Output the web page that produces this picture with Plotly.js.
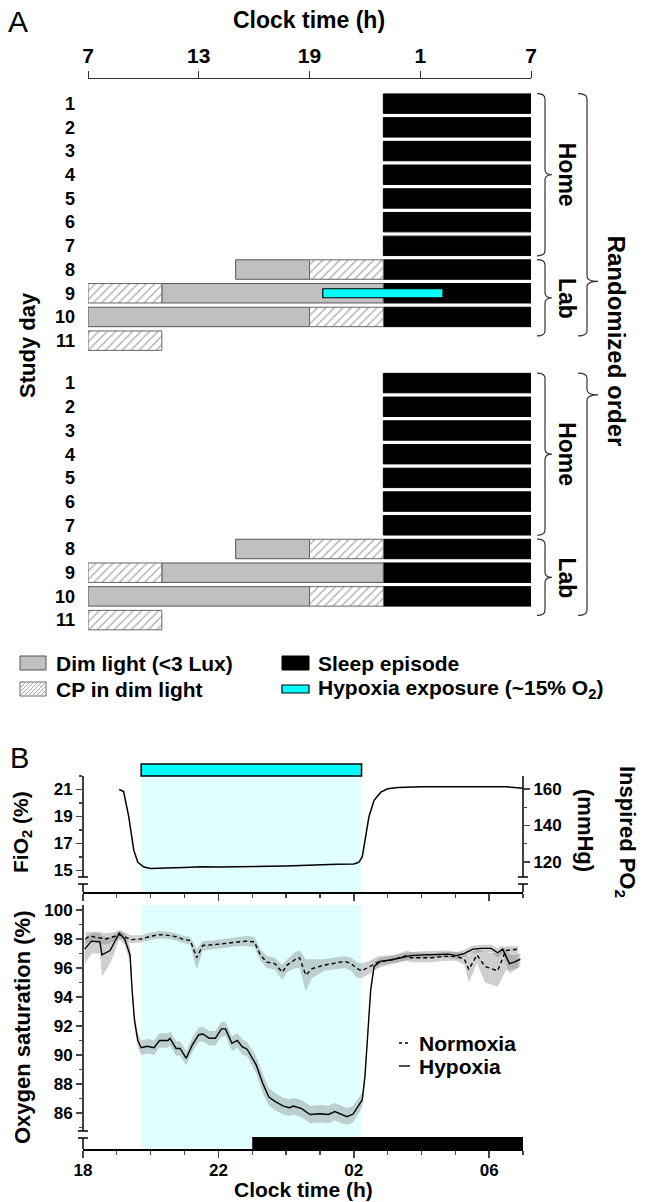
<!DOCTYPE html>
<html><head><meta charset="utf-8">
<script src="https://cdn.plot.ly/plotly-3.0.1.min.js"></script>
<style>html,body{margin:0;padding:0;background:#fff}#chart{width:646px;height:1202px}</style>
</head><body><div id="chart"></div>
<script>
// ================= Panel A data =================
const clockTickVals = [7, 13, 19, 25, 31];
const clockTickText = ['7', '13', '19', '1', '7'];
const studyDays = [1, 2, 3, 4, 5, 6, 7, 8, 9, 10, 11];
const groups = [1, 2];
const categoryNames = ['Dim light (&lt;3 Lux)', 'Sleep episode', 'CP in dim light', 'Hypoxia exposure (~15% O<sub>2</sub>)'];

const sleepGroup = [1,1,1,1,1,1,1,1,1,1, 2,2,2,2,2,2,2,2,2,2];
const sleepDay   = [1,2,3,4,5,6,7,8,9,10, 1,2,3,4,5,6,7,8,9,10];
const sleepStart = [23,23,23,23,23,23,23,23,23,23, 23,23,23,23,23,23,23,23,23,23];
const sleepEnd   = [31,31,31,31,31,31,31,31,31,31, 31,31,31,31,31,31,31,31,31,31];

const dimGroup = [1, 1, 1, 2, 2, 2];
const dimDay   = [8, 9, 10, 8, 9, 10];
const dimStart = [15, 11, 7, 15, 11, 7];
const dimEnd   = [19, 23, 19, 19, 23, 19];

const cpGroup = [1, 1, 1, 1, 2, 2, 2, 2];
const cpDay   = [8, 9, 10, 11, 8, 9, 10, 11];
const cpStart = [19, 7, 19, 7, 19, 7, 19, 7];
const cpEnd   = [23, 11, 23, 11, 23, 11, 23, 11];

const hypGroup = [1];
const hypDay   = [9];
const hypStart = [19.72];
const hypEnd   = [26.23];

// ================= Panel B data =================
const hypoxiaWindow = [19.72, 26.23];
const sleepWindowB = [23, 31];
const bTickVals = [18, 22, 26, 30];
const bTickText = ['18', '22', '02', '06'];
const seriesNames = ['Normoxia', 'Hypoxia'];

const fioT = [19.07,19.2,19.35,19.5,19.62,19.8,20.0,20.3,20.7,21.0,21.5,22.0,22.5,23.0,23.5,24.0,24.5,25.0,25.5,26.0,26.15,26.25,26.35,26.45,26.6,26.8,27.0,27.3,28.0,29.0,30.0,30.5,31.0];
const fioV = [21.0,20.85,19.0,16.5,15.6,15.25,15.15,15.15,15.2,15.22,15.28,15.25,15.25,15.27,15.3,15.33,15.38,15.45,15.45,15.48,15.6,16.0,17.5,19.0,20.2,20.8,21.05,21.15,21.2,21.2,21.2,21.2,21.1];

const norT  = [18.07,18.19,18.43,18.68,18.98,19.10,19.41,19.72,20.02,20.26,20.51,20.75,20.99,21.17,21.36,21.54,21.85,22.21,22.58,22.82,23.06,23.24,23.43,23.67,23.89,24.03,24.28,24.40,24.58,24.77,25.13,25.37,25.74,25.92,26.10,26.23,26.47,26.72,27.20,27.57,27.69,28.30,28.66,29.03,29.27,29.40,29.64,29.88,30.25,30.49,30.86];
const norV  = [98.0,98.2,98.1,98.0,98.2,98.3,97.95,98.0,98.2,98.3,98.25,98.15,97.95,97.9,96.7,97.55,97.6,97.7,97.8,97.85,97.8,96.9,96.4,96.3,95.7,96.2,96.6,96.7,95.5,95.95,96.2,96.3,96.45,96.3,95.95,95.8,96.1,96.4,96.6,96.85,96.7,96.7,96.8,96.8,96.6,95.9,96.9,96.1,95.8,97.2,97.3];
const norLo = [97.6,97.8,97.7,97.6,97.9,98.0,97.7,97.75,97.95,98.05,98.0,97.9,97.7,97.6,95.9,97.2,97.3,97.4,97.5,97.5,97.45,96.5,96.0,95.9,95.2,95.7,96.0,96.0,94.4,95.3,95.8,95.9,96.0,95.8,95.3,95.3,95.6,96.0,96.3,96.5,96.4,96.4,96.5,96.5,96.2,95.0,96.3,95.0,94.7,95.8,96.0];
const norHi = [98.45,98.5,98.5,98.4,98.5,98.6,98.25,98.25,98.45,98.55,98.5,98.4,98.2,98.15,97.3,97.85,97.9,98.0,98.1,98.2,98.15,97.3,96.8,96.7,96.2,96.6,97.1,97.2,96.6,96.6,96.6,96.7,96.8,96.7,96.4,96.3,96.5,96.8,96.9,97.2,97.1,97.0,97.1,97.1,97.0,96.8,97.3,97.1,97.0,97.5,97.5];

const hypT  = [18.05,18.25,18.5,18.56,18.8,18.92,19.07,19.23,19.39,19.45,19.52,19.62,19.72,19.9,20.1,20.26,20.51,20.57,20.75,20.87,21.05,21.23,21.42,21.54,21.73,21.91,22.09,22.21,22.40,22.56,22.70,22.85,23.0,23.12,23.31,23.49,23.67,23.92,24.1,24.22,24.46,24.71,25.01,25.25,25.44,25.62,25.80,25.98,26.17,26.25,26.33,26.42,26.5,26.6,26.78,27.08,27.39,27.69,28.06,28.42,28.79,29.03,29.27,29.52,29.76,30.06,30.25,30.4,30.6,30.74,30.92];
const hypV  = [97.3,97.85,97.8,96.9,97.2,97.7,98.4,98.0,96.9,94.5,92.4,91.0,90.5,90.6,90.5,91.0,91.0,91.15,90.45,90.45,89.77,90.7,91.4,91.45,91.15,91.15,91.8,91.8,90.8,91.0,90.57,90.4,89.8,89.3,88.05,87.1,86.8,86.48,86.37,86.48,86.3,85.9,85.95,85.9,86.1,85.9,85.75,85.93,86.66,86.9,88.5,92.0,94.5,96.1,96.45,96.55,96.7,96.85,96.9,96.95,96.95,96.85,97.0,97.3,97.35,97.35,97.05,97.3,96.3,96.4,96.6];
const hypLo = [96.3,97.0,97.0,95.4,96.3,97.0,98.0,97.6,96.4,94.0,91.9,90.5,90.0,90.1,90.0,90.5,90.5,90.65,89.95,89.95,89.3,90.2,90.9,90.95,90.65,90.65,91.3,91.3,90.3,90.5,90.05,89.9,89.25,88.7,87.4,86.5,86.2,85.9,85.8,85.9,85.7,85.3,85.35,85.3,85.5,85.3,85.2,85.35,86.1,86.4,88.0,91.5,94.1,95.8,96.2,96.3,96.45,96.6,96.65,96.7,96.7,96.6,96.75,97.0,97.1,97.1,96.7,97.0,95.6,95.8,96.1];
const hypHi = [98.0,98.4,98.4,98.2,98.1,98.3,98.6,98.4,97.5,95.0,92.9,91.5,91.0,91.1,91.0,91.5,91.5,91.65,90.95,90.95,90.25,91.2,91.9,91.95,91.65,91.65,92.3,92.3,91.3,91.5,91.1,90.9,90.35,89.9,88.7,87.7,87.4,87.05,86.95,87.05,86.9,86.5,86.55,86.5,86.7,86.5,86.35,86.5,87.2,87.4,89.0,92.5,94.9,96.4,96.7,96.8,96.95,97.1,97.15,97.2,97.2,97.1,97.25,97.55,97.6,97.6,97.35,97.55,96.9,96.9,97.0];

// ================= helpers =================
const W = 646, H = 1202;
const PX = v => v / W, PY = v => 1 - v / H;
const FONT = 'Liberation Sans, Arial, Helvetica, sans-serif';
const GROUP_GAP = 11.79;
const rowIdx = (g, d) => (g - 1) * GROUP_GAP + (d - 1);
const bold = (size) => ({family: FONT, size: size, color: '#000', weight: 700});

const STYLE = {
  dim:   {color: '#c0c0c0', line: {color: '#555', width: 1}},
  sleep: {color: '#000', line: {color: '#000', width: 1}},
  cp:    {color: '#fff', pattern: {shape: '/', fgcolor: '#a8a8a8', bgcolor: '#fff', size: 6, solidity: 0.2},
          line: {color: '#666', width: 1}},
  hyp:   {color: '#00ffff', line: {color: '#000', width: 1.2}}
};

function barTrace(name, g, d, s, e, marker, width) {
  return {
    type: 'bar', orientation: 'h', name: name,
    y: g.map((gg, i) => rowIdx(gg, d[i])),
    x: s.map((v, i) => e[i] - v), base: s,
    width: width, marker: marker, xaxis: 'x', yaxis: 'y', hoverinfo: 'skip'
  };
}

const traces = [
  barTrace(categoryNames[1], sleepGroup, sleepDay, sleepStart, sleepEnd, STYLE.sleep, 0.82),
  barTrace(categoryNames[0], dimGroup, dimDay, dimStart, dimEnd, STYLE.dim, 0.82),
  barTrace(categoryNames[2], cpGroup, cpDay, cpStart, cpEnd, STYLE.cp, 0.82),
  barTrace(categoryNames[3], hypGroup, hypDay, hypStart, hypEnd, STYLE.hyp, 0.38),
  // Panel B
  {x: fioT, y: fioV, xaxis: 'x2', yaxis: 'y2', mode: 'lines', line: {color: '#000', width: 1.5}, hoverinfo: 'skip'},
  {x: [], y: [], xaxis: 'x2', yaxis: 'y3', mode: 'lines', hoverinfo: 'skip'},
  {x: norT.concat(norT.slice().reverse()), y: norHi.concat(norLo.slice().reverse()),
   xaxis: 'x3', yaxis: 'y4', mode: 'lines', fill: 'toself', fillcolor: 'rgba(128,128,128,0.38)',
   line: {width: 0}, hoverinfo: 'skip'},
  {x: hypT.concat(hypT.slice().reverse()), y: hypHi.concat(hypLo.slice().reverse()),
   xaxis: 'x3', yaxis: 'y4', mode: 'lines', fill: 'toself', fillcolor: 'rgba(128,128,128,0.38)',
   line: {width: 0}, hoverinfo: 'skip'},
  {x: norT, y: norV, xaxis: 'x3', yaxis: 'y4', mode: 'lines', name: seriesNames[0],
   line: {color: '#000', width: 1.4, dash: '4px,3px'}, hoverinfo: 'skip'},
  {x: hypT, y: hypV, xaxis: 'x3', yaxis: 'y4', mode: 'lines', name: seriesNames[1],
   line: {color: '#000', width: 1.4}, hoverinfo: 'skip'}
];

// y ticks for panel A
const rowVals = [], rowText = [];
groups.forEach(g => studyDays.forEach(d => { rowVals.push(rowIdx(g, d)); rowText.push(String(d)); }));

// braces (x in paper, y in panel-A row units)
function brace(xh, xv, xt, y0, y1, ym) {
  const r = 0.22;
  const a = PX(xh), b = PX(xv), c = PX(xt);
  const path = `M ${a},${y0} Q ${b},${y0} ${b},${y0 + r} L ${b},${ym - r} Q ${b},${ym} ${c},${ym}` +
               ` Q ${b},${ym} ${b},${ym + r} L ${b},${y1 - r} Q ${b},${y1} ${a},${y1}`;
  return {type: 'path', xref: 'paper', yref: 'y', path: path, line: {color: '#333', width: 1.2}};
}
const g2 = GROUP_GAP;
const shapes = [
  brace(537, 545, 552, -0.42, 6.42, 3.0),
  brace(537, 545, 552, 6.58, 9.8, 8.2),
  brace(537, 545, 552, g2 - 0.42, g2 + 6.42, g2 + 3.0),
  brace(537, 545, 552, g2 + 6.58, g2 + 9.8, g2 + 8.2),
  brace(578, 587, 598, -0.42, 9.8, 7.5),
  brace(578, 587, 598, g2 - 0.42, g2 + 9.8, g2 + 0.5),
  // panel B hypoxia shading
  {type: 'rect', xref: 'x2', yref: 'y2 domain', x0: hypoxiaWindow[0], x1: hypoxiaWindow[1], y0: 0, y1: 1,
   fillcolor: '#e0ffff', line: {width: 0}, layer: 'below'},
  {type: 'rect', xref: 'x3', yref: 'y4 domain', x0: hypoxiaWindow[0], x1: hypoxiaWindow[1], y0: 0, y1: 1,
   fillcolor: '#e0ffff', line: {width: 0}, layer: 'below'},
  {type: 'rect', xref: 'x2', yref: 'y2 domain', x0: hypoxiaWindow[0], x1: hypoxiaWindow[1], y0: 1, y1: 1 + 12 / 116,
   fillcolor: '#00ffff', line: {color: '#000', width: 1.6}},
  {type: 'rect', xref: 'x3', yref: 'y4 domain', x0: sleepWindowB[0], x1: sleepWindowB[1], y0: 0, y1: 12 / 244,
   fillcolor: '#000', line: {width: 0}}
];
function seg(x0, y0, x1, y1, color, width, dash) {
  return {type: 'line', xref: 'paper', yref: 'paper', x0: PX(x0), y0: PY(y0), x1: PX(x1), y1: PY(y1),
          line: {color: color || '#000', width: width || 1.5, dash: dash || 'solid'}};
}
function brokenAxis(x, top, b1, b2, bottom) {
  return [seg(x, top, x, b1), seg(x - 5, b1, x + 5, b1), seg(x - 5, b2, x + 5, b2), seg(x, b2, x, bottom)];
}
shapes.push(...brokenAxis(83, 776, 877, 884, 892));
shapes.push(...brokenAxis(523, 776, 877, 884, 892));
shapes.push(...brokenAxis(83, 905, 1131, 1138, 1149));

// ---- legend of panel A (drawn as key boxes) ----
function box(x0, y0, x1, y1, st) {
  return {type: 'rect', xref: 'paper', yref: 'paper', x0: PX(x0), y0: PY(y0), x1: PX(x1), y1: PY(y1),
          fillcolor: st.color, line: {color: st.line.color, width: st.line.width}};
}
function hatch(x0, y0, x1, y1, step) {
  const out = [], h = y1 - y0;
  for (let c = x0 - h; c < x1; c += step) {
    const tmin = Math.max(0, (x0 - c) / h), tmax = Math.min(1, (x1 - c) / h);
    if (tmax - tmin > 0.02) out.push(seg(c + tmin * h, y1 - tmin * h, c + tmax * h, y1 - tmax * h, '#a0a0a0', 0.9));
  }
  return out;
}
const LEG = {col1: 20, col2: 282, boxW: 26, row1: 663, row2: 689, textDx: 34};
shapes.push(box(LEG.col1, LEG.row1 - 7, LEG.col1 + LEG.boxW, LEG.row1 + 7, STYLE.dim));
shapes.push(box(LEG.col2, LEG.row1 - 7, LEG.col2 + LEG.boxW + 1, LEG.row1 + 7, STYLE.sleep));
shapes.push(box(LEG.col1, LEG.row2 - 7, LEG.col1 + LEG.boxW, LEG.row2 + 7, {color: '#fff', line: {color: '#666', width: 1}}));
shapes.push(...hatch(LEG.col1 + 1, LEG.row2 - 6, LEG.col1 + LEG.boxW - 1, LEG.row2 + 6, 4));
shapes.push(box(LEG.col2, LEG.row2 - 4, LEG.col2 + LEG.boxW + 1, LEG.row2 + 4, STYLE.hyp));
// ---- legend of panel B ----
const LEGB = {x0: 399, x1: 410, r1: 1043, r2: 1066, tx: 417};
shapes.push(seg(LEGB.x0, LEGB.r1, LEGB.x1, LEGB.r1, '#000', 1.4, '3px,3px'));
shapes.push(seg(LEGB.x0, LEGB.r2, LEGB.x1, LEGB.r2, '#000', 1.4));

const annotations = [
  {text: 'A', x: PX(18), y: PY(22), font: {family: FONT, size: 30, color: '#000'}},
  {text: 'Clock time (h)', x: PX(309), y: PY(20), font: bold(23)},
  {text: 'Study day', x: PX(28), y: PY(345), textangle: -90, font: bold(22)},
  {text: 'Home', x: PX(567), yref: 'y', y: 3.0, textangle: 90, font: bold(23)},
  {text: 'Lab', x: PX(567), yref: 'y', y: 8.2, textangle: 90, font: bold(23)},
  {text: 'Home', x: PX(567), yref: 'y', y: g2 + 3.0, textangle: 90, font: bold(23)},
  {text: 'Lab', x: PX(567), yref: 'y', y: g2 + 8.2, textangle: 90, font: bold(23)},
  {text: 'Randomized order', x: PX(616), yref: 'y', y: 10.0, textangle: 90, font: bold(24)},
  {text: categoryNames[0], x: PX(LEG.col1 + LEG.textDx), y: PY(LEG.row1), xanchor: 'left', font: bold(21)},
  {text: categoryNames[1], x: PX(LEG.col2 + LEG.textDx), y: PY(LEG.row1), xanchor: 'left', font: bold(21)},
  {text: categoryNames[2], x: PX(LEG.col1 + LEG.textDx), y: PY(LEG.row2), xanchor: 'left', font: bold(21)},
  {text: categoryNames[3], x: PX(LEG.col2 + LEG.textDx), y: PY(LEG.row2), xanchor: 'left', font: bold(21)},
  {text: 'B', x: PX(19), y: PY(758), font: {family: FONT, size: 29, color: '#000'}},
  {text: 'FiO<sub>2</sub> (%)', x: PX(22), y: PY(832), textangle: -90, font: bold(21)},
  {text: 'Inspired PO<sub>2</sub>', x: PX(626), y: PY(832), textangle: 90, font: bold(22)},
  {text: '(mmHg)', x: PX(586), y: PY(830), textangle: 90, font: bold(22)},
  {text: 'Oxygen saturation (%)', x: PX(22), y: PY(1028), textangle: -90, font: bold(22)},
  {text: seriesNames[0], x: PX(LEGB.tx), y: PY(LEGB.r1), xanchor: 'left', font: bold(21)},
  {text: seriesNames[1], x: PX(LEGB.tx), y: PY(LEGB.r2), xanchor: 'left', font: bold(21)},
  {text: 'Clock time (h)', x: PX(303), y: PY(1189), font: bold(21)}
].map(a => Object.assign({xref: 'paper', yref: 'paper', showarrow: false, xanchor: 'center', yanchor: 'middle'}, a));

const tickFontB = bold(17);
const layout = {
  width: W, height: H, autosize: false,
  margin: {l: 0, r: 0, t: 0, b: 0, pad: 0},
  paper_bgcolor: '#fff', plot_bgcolor: 'rgba(0,0,0,0)',
  barmode: 'overlay', hovermode: false, showlegend: false,
  font: {family: FONT, color: '#000'},
  xaxis: {domain: [PX(88), PX(531)], range: [7, 31], side: 'top', anchor: 'y',
          tickmode: 'array', tickvals: clockTickVals, ticktext: clockTickText,
          ticks: 'outside', ticklen: 7, tickcolor: '#333', showline: true, linecolor: '#333', linewidth: 1,
          showgrid: false, zeroline: false, tickfont: bold(21)},
  yaxis: {domain: [PY(640), PY(79)], range: [22.63, -1.04], anchor: 'x',
          tickmode: 'array', tickvals: rowVals, ticktext: rowText, ticks: '',
          showline: false, showgrid: false, zeroline: false, tickfont: bold(18), ticklabelstandoff: 12},
  xaxis2: {domain: [PX(83), PX(523)], range: [18, 31], anchor: 'y2', showticklabels: false,
           tickmode: 'array', tickvals: bTickVals, ticks: 'outside', ticklen: 7, tickwidth: 1.5,
           minor: {ticks: 'outside', ticklen: 4, tickmode: 'linear', tick0: 18, dtick: 1, tickwidth: 1.2},
           showline: true, linecolor: '#000', linewidth: 1.5, showgrid: false, zeroline: false},
  xaxis3: {domain: [PX(83), PX(523)], range: [18, 31], anchor: 'y4',
           tickmode: 'array', tickvals: bTickVals, ticktext: bTickText, ticks: 'outside', ticklen: 7, tickwidth: 1.5,
           minor: {ticks: 'outside', ticklen: 4, tickmode: 'linear', tick0: 18, dtick: 1, tickwidth: 1.2},
           showline: true, linecolor: '#000', linewidth: 1.5, showgrid: false, zeroline: false,
           tickfont: bold(17), ticklabelstandoff: -2},
  yaxis2: {domain: [PY(892), PY(776)], range: [13.4, 22.0], anchor: 'x2',
           tickmode: 'array', tickvals: [15, 17, 19, 21], ticks: 'outside', ticklen: 6, tickwidth: 1.5,
           minor: {tickmode: 'array', tickvals: [16, 18, 20, 22], ticks: 'outside', ticklen: 3, tickwidth: 1.2},
           showline: false, showgrid: false, zeroline: false, tickfont: tickFontB},
  yaxis3: {overlaying: 'y2', side: 'right', anchor: 'x2', range: [103.6, 167.1],
           tickmode: 'array', tickvals: [120, 140, 160], ticks: 'outside', ticklen: 6, tickwidth: 1.5,
           minor: {tickmode: 'array', tickvals: [130, 150], ticks: 'outside', ticklen: 3, tickwidth: 1.2},
           showline: false, showgrid: false, zeroline: false, tickfont: tickFontB},
  yaxis4: {domain: [PY(1149), PY(905)], range: [83.52, 100.34], anchor: 'x3',
           tickmode: 'array', tickvals: [86, 88, 90, 92, 94, 96, 98, 100], ticks: 'outside', ticklen: 6, tickwidth: 1.5,
           minor: {tickmode: 'array', tickvals: [85, 87, 89, 91, 93, 95, 97, 99], ticks: 'outside', ticklen: 3, tickwidth: 1.2},
           showline: false, showgrid: false, zeroline: false, tickfont: tickFontB},
  shapes: shapes,
  annotations: annotations
};

Plotly.newPlot('chart', traces, layout, {displayModeBar: false, staticPlot: true});
</script>
</body></html>
